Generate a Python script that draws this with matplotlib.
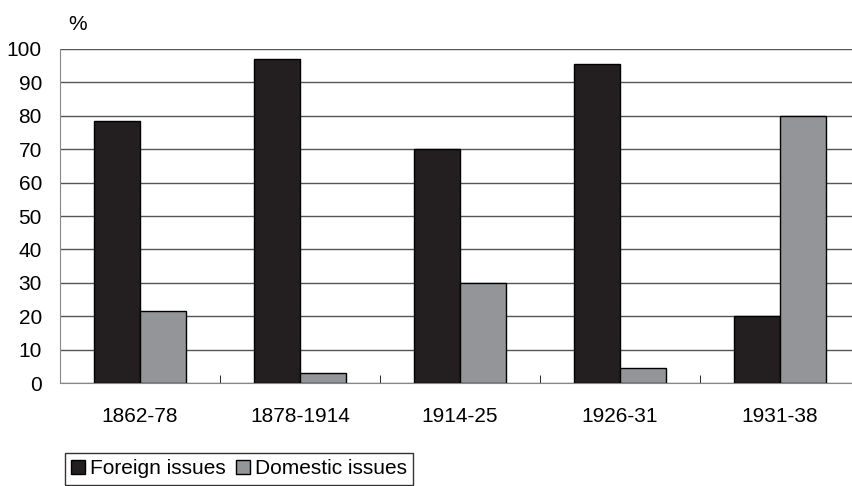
import numpy as np
import matplotlib.pyplot as plt
from matplotlib.patches import Patch

plt.rcParams['font.family'] = ['Liberation Sans', 'DejaVu Sans']

periods = ['1862-78', '1878-1914', '1914-25', '1926-31', '1931-38']
foreign = [78.5, 97, 70, 95.5, 20]
domestic = [21.5, 3, 30, 4.5, 80]

fig = plt.figure(figsize=(8.53, 4.86), dpi=100)
ax = fig.add_axes([60 / 853, 103 / 486, 800 / 853, 334 / 486])

x = np.arange(len(periods))
w = 0.29
ax.bar(x - w / 2, foreign, w, color='#231f20', edgecolor='black', linewidth=1, zorder=3)
ax.bar(x + w / 2, domestic, w, color='#939598', edgecolor='black', linewidth=1, zorder=3)

ax.set_xlim(-0.5, len(periods) - 0.5)
ax.set_ylim(0, 100)
ax.set_yticks(range(0, 101, 10))
ax.yaxis.grid(True, color='#555555', linewidth=1, zorder=0)
ax.set_xticks(x)
ax.set_xticklabels(periods, fontsize=15)
ax.set_xticks(np.arange(0.5, len(periods) - 0.5), minor=True)
ax.tick_params(axis='x', which='major', length=0, pad=17)
ax.tick_params(axis='x', which='minor', direction='in', length=6, color='black')
ax.tick_params(axis='y', length=0, labelsize=15, pad=13)
for s in ['top', 'right']:
    ax.spines[s].set_visible(False)
ax.spines['left'].set_color('#888888')
ax.spines['bottom'].set_color('#888888')

fig.text(78 / 853, 1 - 25 / 486, '%', fontsize=15, ha='center', va='center')

handles = [Patch(facecolor='#231f20', edgecolor='black', label='Foreign issues'),
           Patch(facecolor='#939598', edgecolor='black', label='Domestic issues')]
leg = fig.legend(handles=handles, loc='upper left', bbox_to_anchor=(65 / 853, 1 - 453 / 486),
                 ncol=2, fontsize=15, frameon=True, fancybox=False, handlelength=0.65,
                 handleheight=0.65, handletextpad=0.25, columnspacing=0.5, borderpad=0.3,
                 borderaxespad=0)
leg.get_frame().set_edgecolor('black')
leg.get_frame().set_linewidth(1)

fig.savefig('out.png', dpi=100)
